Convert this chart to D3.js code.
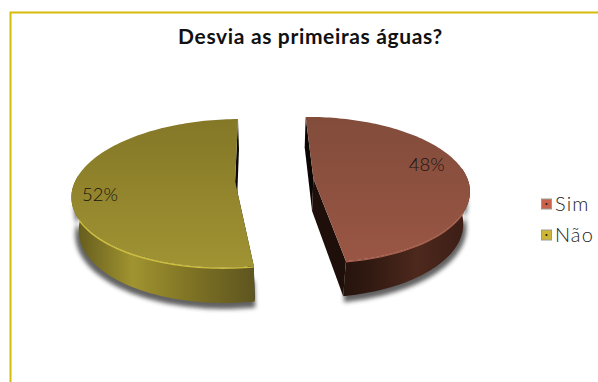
<!DOCTYPE html>
<html>
<head>
<meta charset="utf-8">
<script src="https://cdn.jsdelivr.net/npm/d3@7/dist/d3.min.js"></script>
<style>
html,body{margin:0;padding:0;background:#fff;overflow:hidden}
svg{display:block}
text{font-family:"Lato","Open Sans",sans-serif}
</style>
</head>
<body>
<script>
const categories = ["Sim", "Não"];
const values = [48, 52];
const titleText = "Desvia as primeiras águas?";
const faceColors = [["#824c3b", "#9a5644"], ["#847727", "#a09333"]];
const wallColors = [
  ["#1c0e09", "#2e1810", "#4d281d", "#3a1d15"],
  ["#5f561c", "#a09330", "#7d7124", "#5e5520"]
];
const rimColors = ["#a8604d", "#cfbf3d"];
const swatchColors = ["#c9624c", "#cdb635"];

const width = 598, height = 382;
const svg = d3.select("body").append("svg").attr("width", width).attr("height", height);
const defs = svg.append("defs");
defs.append("filter").attr("id", "soft").attr("x", "-20%").attr("y", "-20%").attr("width", "140%").attr("height", "140%")
  .append("feGaussianBlur").attr("stdDeviation", 2.2);
defs.append("filter").attr("id", "rimSoft").attr("x", "-5%").attr("y", "-20%").attr("width", "110%").attr("height", "140%")
  .append("feGaussianBlur").attr("stdDeviation", 0.5);

// Chart frame: only the top and left edges are visible
svg.append("path").attr("d", `M10.5,${height}V12.5H${width}`)
  .attr("fill", "none").attr("stroke", "#d6bc0a").attr("stroke-width", 2);

svg.append("text").attr("x", 310.5).attr("y", 43.5).attr("text-anchor", "middle")
  .attr("font-size", 21).attr("font-weight", 700).attr("fill", "#111")
  .attr("letter-spacing", 0.65).text(titleText);

// Perspective projection of a disc lying on its side, turned slightly towards the left
const view = {cx: 272, cy: 180, rx: 157, rz: 71.7, depth: 34, persp: 0.156, yaw: 0.015, sink: 0.035, roll: -0.012, shear: 2.5, explode: 0.25};
function project(X, Z, h) {
  const k = 1 / (1 - view.persp * Z + view.yaw * X + view.sink * h);
  const sx = view.cx + view.rx * X * k + view.shear * (Z + 1);
  const sy = view.cy + view.rz * Z * k + view.depth * h * k;
  return [sx, sy + view.roll * (sx - view.cx)];
}

const pie = d3.pie().sort(null).startAngle(0).endAngle(2 * Math.PI);
const arcs = pie(values);
const line = d3.line();

arcs.forEach((a, i) => {
  const mid = (a.startAngle + a.endAngle) / 2;
  const ox = Math.sin(mid) * view.explode, oz = -Math.cos(mid) * view.explode;
  const rim = (t, h, r = 1) => project(ox + r * Math.sin(t), oz - r * Math.cos(t), h);
  const hub = h => project(ox, oz, h);
  const steps = d3.range(0, 121).map(s => a.startAngle + (a.endAngle - a.startAngle) * s / 120);
  const g = svg.append("g");

  // Horizontal shading across the side walls
  const x0 = d3.min(steps, t => rim(t, 0)[0]), x1 = d3.max(steps, t => rim(t, 0)[0]);
  const wall = defs.append("linearGradient").attr("id", "wall" + i)
    .attr("gradientUnits", "userSpaceOnUse")
    .attr("x1", i === 0 ? hub(1)[0] : x0).attr("x2", i === 0 ? x1 : rim(a.startAngle, 1)[0]).attr("y1", 0).attr("y2", 0);
  wallColors[i].forEach((c, j) => wall.append("stop").attr("offset", j / (wallColors[i].length - 1)).attr("stop-color", c));

  const face = defs.append("linearGradient").attr("id", "face" + i)
    .attr("gradientUnits", "userSpaceOnUse").attr("x1", 0).attr("x2", 0)
    .attr("y1", rim(0, 0)[1]).attr("y2", rim(Math.PI, 0)[1]);
  faceColors[i].forEach((c, j) => face.append("stop").attr("offset", j).attr("stop-color", c));

  const front = steps.filter(t => Math.cos(t) < 0.12);
  const frontTop = front.map(t => rim(t, 0));
  const frontLow = front.map(t => rim(t, 1)).reverse();

  // Soft cast shadow under the front of the slice
  g.append("path")
    .attr("d", line(front.map(t => rim(t, 1.1, 1.025)).concat(front.map(t => rim(t, 0.4)).reverse())) + "Z")
    .attr("fill", "#3a3a3a").attr("opacity", 0.8).attr("filter", "url(#soft)");

  // Radial walls, then the curved outer wall, then the top
  [a.startAngle, a.endAngle].forEach(t => {
    g.append("path")
      .attr("d", line([hub(0), rim(t, 0), rim(t, 1), hub(1)]) + "Z")
      .attr("fill", i === 0 ? (t === a.startAngle ? "#0b0503" : "#1f0f0a") : "#0a0904");
  });
  g.append("path").attr("d", line(frontTop.concat(frontLow)) + "Z").attr("fill", `url(#wall${i})`);
  g.append("path")
    .attr("d", line([hub(0)].concat(steps.map(t => rim(t, 0)))) + "Z")
    .attr("fill", `url(#face${i})`);

  // Bright bevel along the near rim
  g.append("path").attr("d", line(steps.filter(t => Math.cos(t) < -0.45).map(t => rim(t, 0.02))))
    .attr("fill", "none").attr("stroke", rimColors[i]).attr("stroke-width", 1.3)
    .attr("filter", "url(#rimSoft)");

  // Percentage label placed on the slice
  const labelAt = i === 0 ? project(ox + 0.77, oz - 0.19, 0) : project(ox - 0.82, oz + 0.14, 0);
  g.append("text").attr("x", labelAt[0]).attr("y", labelAt[1] + 7)
    .attr("text-anchor", "middle").attr("font-size", 18.5).attr("font-weight", 300).attr("fill", "#1a1410")
    .text(d3.format(".0f")(a.data) + "%");
});

// Legend
const legendY = d3.scalePoint().domain(categories).range([204, 235]);
const legend = svg.append("g").selectAll("g").data(categories).join("g")
  .attr("transform", d => `translate(541,${legendY(d)})`);
legend.append("rect").attr("x", 0.5).attr("y", -5).attr("width", 10).attr("height", 10)
  .attr("fill", (d, i) => swatchColors[i]).attr("stroke", "#9c9c90").attr("stroke-width", 1);
legend.append("circle").attr("cx", 5.5).attr("cy", 0).attr("r", 1.1).attr("fill", "#2a2010");
legend.append("text").attr("x", 14).attr("y", 6.5).attr("font-size", 20).attr("font-weight", 300)
  .attr("letter-spacing", 1.1).attr("fill", "#222").text(d => d);
</script>
</body>
</html>
